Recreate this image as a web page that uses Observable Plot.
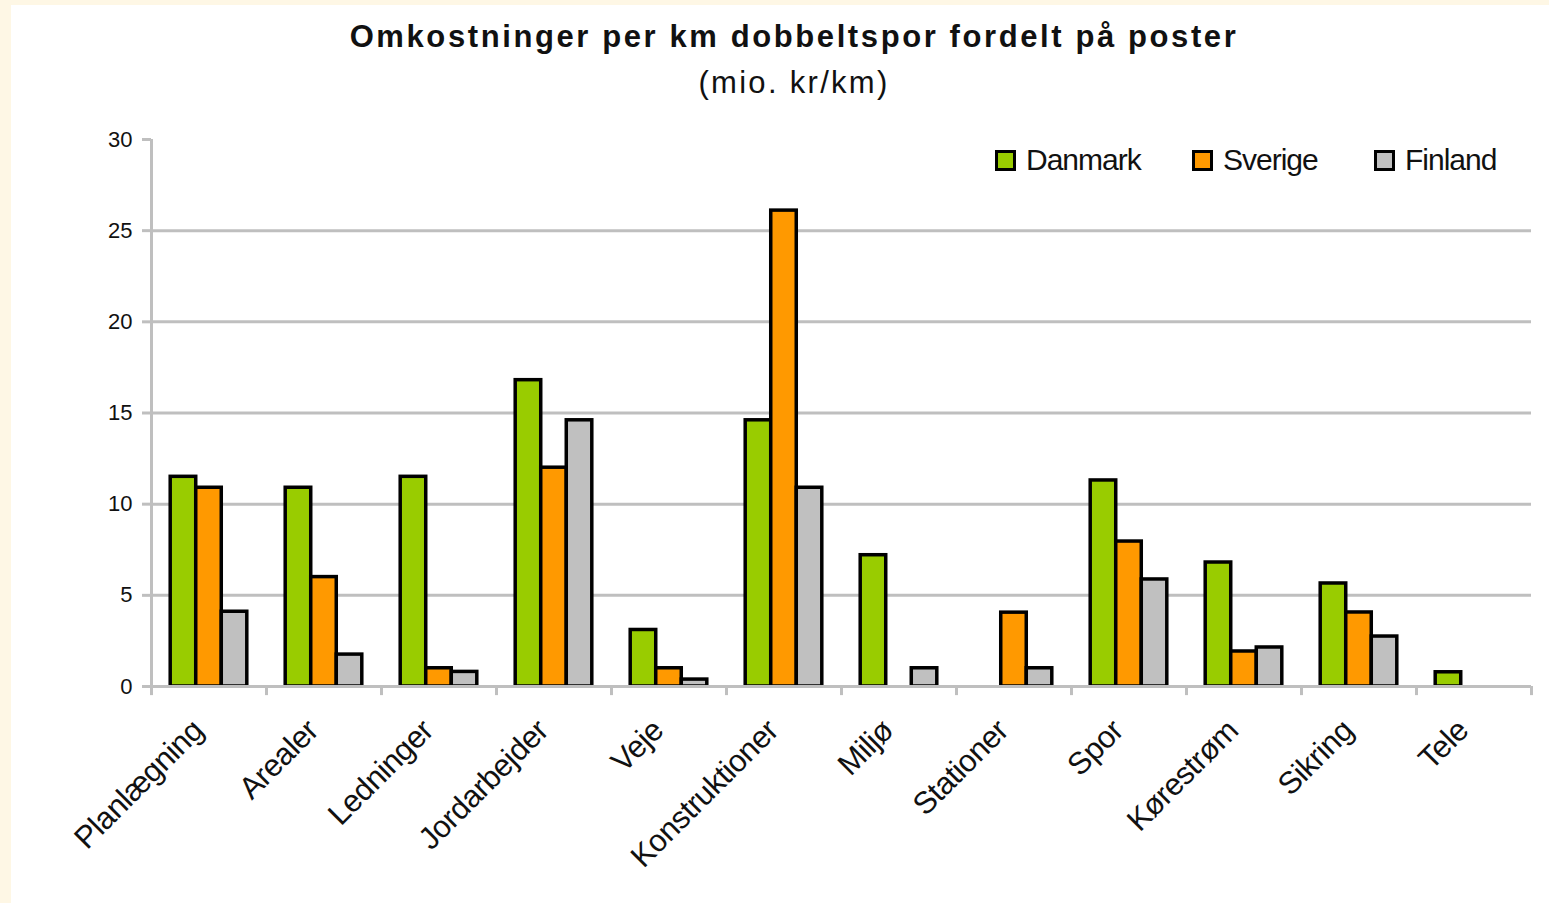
<!DOCTYPE html>
<html>
<head>
<meta charset="utf-8">
<script src="https://cdn.jsdelivr.net/npm/d3@7"></script>
<script src="https://cdn.jsdelivr.net/npm/@observablehq/plot@0.6"></script>
<style>
  html, body { margin: 0; padding: 0; }
  body { width: 1549px; height: 903px; background: #FEF7E5; position: relative; overflow: hidden;
         font-family: "Liberation Sans", Arial, sans-serif; }
  #panel { position: absolute; left: 11px; top: 5px; width: 1538px; height: 898px; background: #fff; }
  #chart { position: absolute; left: 0; top: 0; }
  #chart svg { background: transparent; }
  .title { position: absolute; left: 0; width: 1588px; text-align: center; color: #111; white-space: nowrap; }
  #t1 { top: 19px; font-size: 31px; font-weight: bold; letter-spacing: 2.6px; }
  #t2 { top: 65px; font-size: 31px; letter-spacing: 2.3px; }
  .leg { position: absolute; top: 143px; display: flex; align-items: center; font-size: 30px; letter-spacing: -1px; color: #111; }
  .sw { width: 15px; height: 15px; border: 3px solid #000; margin-right: 10px; }
</style>
</head>
<body>
<div id="panel"></div>
<div id="chart"></div>
<div class="title" id="t1">Omkostninger per km dobbeltspor fordelt på poster</div>
<div class="title" id="t2">(mio. kr/km)</div>
<div id="legend"></div>
<script>
const categories = ["Planlægning", "Arealer", "Ledninger", "Jordarbejder", "Veje", "Konstruktioner",
                    "Miljø", "Stationer", "Spor", "Kørestrøm", "Sikring", "Tele"];
const countries = ["Danmark", "Sverige", "Finland"];
const danmark = [11.5, 10.9, 11.5, 16.8, 3.1, 14.6, 7.2, 0, 11.3, 6.8, 5.65, 0.78];
const sverige = [10.9, 6.0, 1.0, 12.0, 1.0, 26.1, 0, 4.05, 7.95, 1.92, 4.06, 0];
const finland = [4.1, 1.75, 0.8, 14.6, 0.38, 10.9, 1.0, 1.0, 5.87, 2.14, 2.74, 0];
const colors = ["#99CC00", "#FF9900", "#C0C0C0"];
const yTicks = [0, 5, 10, 15, 20, 25, 30];
const gridTicks = [5, 10, 15, 20, 25];

const rows = categories.map((c, i) => ({cat: c, Danmark: danmark[i], Sverige: sverige[i], Finland: finland[i]}));

const W = 1549, H = 903, mL = 151, mR = 18, mT = 139, mB = 217;
const bw = (W - mL - mR) / categories.length;   // band width
const step = bw * 0.222;                          // bar width
const inset = (bw - step) / 2;
const gray = "#BFBFBF";

const barMarks = countries.map((k, i) => Plot.barY(rows.filter(r => r[k] > 0), {
  x: "cat", y: k, fill: colors[i], stroke: "#000", strokeWidth: 3.5,
  insetLeft: inset, insetRight: inset, dx: (i - 1) * step
}));

const plot = Plot.plot({
  width: W, height: H,
  marginLeft: mL, marginRight: mR, marginTop: mT, marginBottom: mB,
  style: {background: "transparent", fontFamily: "'Liberation Sans', Arial, sans-serif", color: "#111"},
  x: {domain: categories, padding: 0, axis: null},
  y: {domain: [0, 30], axis: null},
  marks: [
    Plot.ruleY(gridTicks, {stroke: gray, strokeWidth: 3}),
    Plot.axisY({ticks: yTicks, tickSize: 9, stroke: gray, strokeWidth: 3, tickPadding: 10,
                fontSize: 22, fill: "#111", tickFormat: d => d}),
    Plot.ruleX([categories[0]], {dx: -bw / 2, y1: -0.5, y2: 30, stroke: gray, strokeWidth: 3}),
    Plot.ruleX(categories, {x: d => d, dx: -bw / 2, y1: -0.5, y2: 0, stroke: gray, strokeWidth: 3}),
    Plot.ruleX([categories[categories.length - 1]], {dx: bw / 2, y1: -0.5, y2: 0, stroke: gray, strokeWidth: 3}),
    ...barMarks,
    Plot.ruleY([0], {stroke: gray, strokeWidth: 3}),
    Plot.text(categories, {x: d => d, text: d => d, frameAnchor: "bottom", rotate: -45, textAnchor: "end",
      dy: 46, dx: -4, fontSize: 31, fill: "#111"})
  ]
});
plot.querySelectorAll("g[aria-label='text'] text").forEach(t => { t.style.letterSpacing = "-0.5px"; });
document.getElementById("chart").appendChild(plot);

// legend
const legPos = [995, 1192, 1374];
const legend = document.getElementById("legend");
countries.forEach((k, i) => {
  const d = document.createElement("div");
  d.className = "leg";
  d.style.left = legPos[i] + "px";
  d.innerHTML = `<div class="sw" style="background:${colors[i]}"></div><span>${k}</span>`;
  legend.appendChild(d);
});
</script>
</body>
</html>
